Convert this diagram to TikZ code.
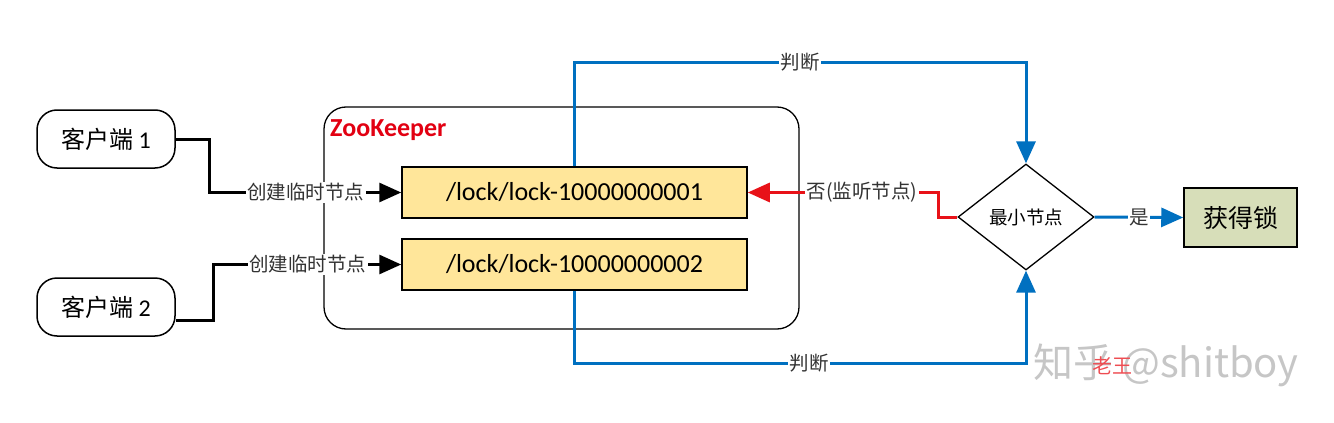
\documentclass[tikz,border=0pt]{standalone}
\usepackage{fontspec}
\setmainfont{Carlito}
\newfontfamily\cjk{Noto Sans CJK SC}
\usetikzlibrary{arrows.meta,shapes.geometric}
\definecolor{lockyellow}{HTML}{FFE69A}
\definecolor{wingreen}{HTML}{D7DEB9}
\definecolor{flowblue}{HTML}{0070C0}
\definecolor{flowred}{RGB}{232,18,24}
\definecolor{zkred}{RGB}{226,0,18}
\definecolor{labelgray}{HTML}{333333}
\tikzset{
  boxline/.style={draw=black, line width=1.5pt},
  client/.style={boxline, rounded corners=20pt, minimum width=138pt, minimum height=58pt, inner sep=0pt, font=\fontsize{24}{24}\selectfont},
  container/.style={boxline, line width=1.3pt, rounded corners=22pt, minimum width=475pt, minimum height=222pt, inner sep=0pt},
  zklabel/.style={text=zkred, font=\bfseries\fontsize{26}{26}\selectfont, inner sep=0pt},
  lockbox/.style={boxline, fill=lockyellow, minimum width=345pt, minimum height=51pt, inner sep=0pt, font=\fontsize{26}{26}\selectfont},
  decision/.style={boxline, line width=1.3pt, diamond, minimum width=136pt, minimum height=106pt, inner sep=0pt, font=\cjk\fontsize{18.5}{18.5}\selectfont},
  result/.style={boxline, fill=wingreen, minimum width=113pt, minimum height=59pt, inner sep=0pt, font=\cjk\fontsize{25}{25}\selectfont},
  conn/.style={line width=3pt, -{Triangle[length=22pt,width=19pt]}},
  blackconn/.style={conn, draw=black},
  blueconn/.style={conn, draw=flowblue},
  redconn/.style={conn, draw=flowred},
  edgelabel/.style={fill=white, inner sep=1.5pt, text=labelgray, font=\cjk\fontsize{19.5}{19.5}\selectfont},
  watermark/.style={text=gray!45, font=\cjk\fontsize{40}{40}\selectfont, inner sep=0pt},
  redmark/.style={text=flowred!75, font=\cjk\fontsize{20}{20}\selectfont, inner sep=0pt}
}
\begin{document}
\begin{tikzpicture}[x=1pt,y=-1pt]
\useasboundingbox (0,0) rectangle (1334,423);

% nodes
\node[client] (c1) at (106,139) {{\cjk 客户端} 1};
\node[client] (c2) at (106,307) {{\cjk 客户端} 2};
\node[container] (zk) at (561.5,218) {};
\node[zklabel, anchor=west] (zkl) at (330,130) {ZooKeeper};
\node[lockbox] (l1) at (574.5,192.5) {/lock/lock-10000000001};
\node[lockbox] (l2) at (574.5,264.5) {/lock/lock-10000000002};
\node[decision] (dm) at (1026,217) {最小节点};
\node[result] (win) at (1240.5,217.5) {获得锁};

% client connectors
\draw[blackconn] (c1.east) -- ++(34,0) |- (l1.west)
  node[edgelabel, pos=0.75] (t1) {创建临时节点};
\draw[blackconn] ([yshift=-13pt]c2.east) -- ++(38,0) |- (l2.west)
  node[edgelabel, pos=0.75] (t2) {创建临时节点};

% judgement connectors
\draw[blueconn] (l1.north) -- (l1.north |- 0,62) -| (dm.north)
  node[edgelabel, pos=0.25] (t3) {判断};
\draw[blueconn] (l2.south) -- (l2.south |- 0,363) -| (dm.south)
  node[edgelabel, pos=0.26] (t4) {判断};
\draw[blueconn] (dm.east) -- (win.west)
  node[edgelabel, midway] (t5) {是};
\draw[redconn] (dm.west) -- ++(-19,0) |- (l1.east)
  node[edgelabel, pos=0.7] (t6) {否(监听节点)};

% watermark
\node[watermark, anchor=west] (wm) at (1033,365) {知乎 @shitboy};
\node[redmark] (wm2) at (1112,366) {老王};
\end{tikzpicture}
\end{document}
